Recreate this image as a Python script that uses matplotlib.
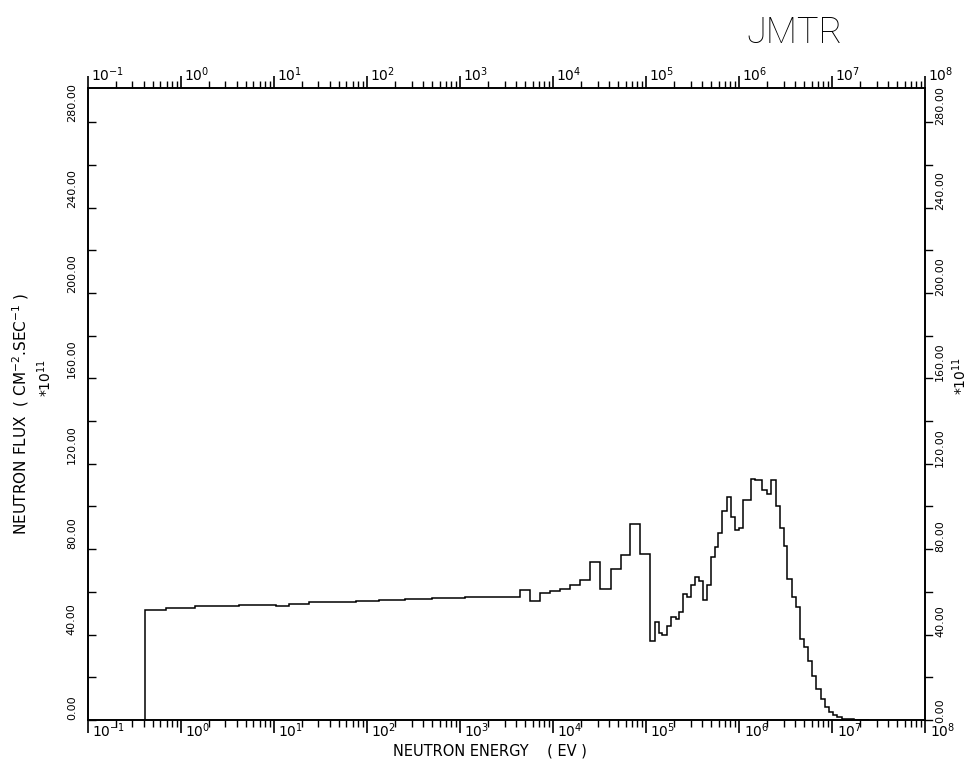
import matplotlib
matplotlib.use('Agg')
import matplotlib.pyplot as plt
import matplotlib.transforms as mtransforms
from matplotlib.ticker import LogLocator, MultipleLocator, NullFormatter, FixedLocator
import numpy as np

# group boundaries (eV)
energy_edges = [0.414, 0.684, 1.43, 2.35, 4.19, 6.87, 10.4, 14.4, 23.7, 38.8, 75.0, 134.0, 258.0,
                495.0, 1140.0, 2600.0,
                4.39e3, 5.62e3, 7.20e3, 9.22e3, 1.18e4, 1.51e4, 1.94e4, 2.50e4, 3.20e4, 4.17e4,
                5.34e4, 6.67e4, 8.54e4,
                1.10e5, 1.24e5, 1.38e5, 1.48e5, 1.67e5, 1.84e5, 2.08e5, 2.26e5, 2.49e5, 2.75e5,
                3.01e5, 3.35e5, 3.70e5, 4.09e5, 4.51e5, 4.98e5, 5.50e5, 5.92e5, 6.54e5, 7.40e5,
                8.17e5, 9.02e5, 9.95e5,
                1.10e6, 1.34e6, 1.48e6, 1.76e6, 1.99e6, 2.20e6, 2.49e6, 2.74e6, 3.03e6, 3.26e6,
                3.69e6, 4.08e6, 4.50e6, 4.97e6, 5.48e6, 6.05e6, 6.68e6, 7.56e6, 8.35e6, 9.22e6,
                1.02e7, 1.12e7, 1.27e7, 1.71e7, 2.48e7]

# group flux (x 1e11 n/cm2/s)
flux_thermal = [51.7, 52.3, 53.3, 53.5, 53.8, 53.7, 53.4, 54.4, 55.1, 55.3, 55.9, 56.3, 56.5,
                56.9, 57.4, 57.8]
flux_inter = [60.7, 55.5, 59.5, 60.5, 61.5, 63.0, 65.5, 74.0, 61.3, 70.5, 77.5, 91.6, 77.7]
flux_fast = [37.0, 46.0, 40.7, 39.9, 43.8, 48.4, 47.2, 50.8, 58.9, 57.8, 63.3, 66.8, 64.9,
             56.0, 63.3, 76.2, 80.9, 87.4, 97.8, 104.5, 95.1, 89.1, 90.0,
             103.2, 113.0, 112.2, 107.8, 105.9, 112.4, 100.4, 89.9, 81.6, 66.0, 57.4, 53.0,
             38.0, 34.1, 27.6, 20.6, 14.4, 9.7, 6.1, 3.9,
             2.3, 1.4, 0.6, 0.2]

decades = list(range(-1, 9))
y_ticks = [0, 40, 80, 120, 160, 200, 240, 280]
y_labels = ['0.00', '40.00', '80.00', '120.00', '160.00', '200.00', '240.00', '280.00']

flux = flux_thermal + flux_inter + flux_fast

fig = plt.figure(figsize=(9.71, 7.67), dpi=100)
ax = fig.add_axes([0.0906, 0.0613, 0.8625, 0.824])

ax.stairs(flux, energy_edges, baseline=0, color='black', lw=1.1)

ax.set_xscale('log')
ax.set_xlim(1e-1, 1e8)
ax.set_ylim(0, 296)

for s in ax.spines.values():
    s.set_linewidth(1.4)

# tick marks
ax.xaxis.set_major_locator(FixedLocator([10.0 ** d for d in decades]))
ax.xaxis.set_minor_locator(LogLocator(base=10, subs=np.arange(2, 10), numticks=20))
ax.xaxis.set_minor_formatter(NullFormatter())
ax.yaxis.set_major_locator(MultipleLocator(40))
ax.yaxis.set_minor_locator(MultipleLocator(20))
ax.tick_params(axis='x', which='major', direction='out', length=9, width=1.2,
               top=True, bottom=True, labelbottom=False, labeltop=False)
ax.tick_params(axis='x', which='minor', direction='out', length=5, width=1.0,
               top=True, bottom=True)
ax.tick_params(axis='y', which='both', direction='in', length=6, width=1.0,
               left=True, right=False, labelleft=False)

# right-hand ticks point outward
for yv in np.arange(0, 296, 20):
    ax.plot([1.0, 1.008], [yv, yv], transform=ax.get_yaxis_transform(), color='black',
            lw=1.0, clip_on=False)

# decade labels on top and bottom
xt = ax.get_xaxis_transform()
for d in decades:
    lab = r'$10^{%d}$' % d
    ax.text(10.0 ** d, 0, lab, fontsize=10, ha='left', va='top',
            transform=xt + mtransforms.ScaledTranslation(3 / 72, -1 / 72, fig.dpi_scale_trans))
    ax.text(10.0 ** d, 1, lab, fontsize=10, ha='left', va='bottom',
            transform=xt + mtransforms.ScaledTranslation(2 / 72, 3 / 72, fig.dpi_scale_trans))

# flux labels on both sides, written upward from each tick
yt = ax.get_yaxis_transform()
for v, lab in zip(y_ticks, y_labels):
    ax.text(0, v, lab, fontsize=8, rotation=90, rotation_mode='anchor', ha='left', va='bottom',
            transform=yt + mtransforms.ScaledTranslation(-8 / 72, 0, fig.dpi_scale_trans))
    ax.text(1, v, lab, fontsize=8, rotation=90, rotation_mode='anchor', ha='left', va='top',
            transform=yt + mtransforms.ScaledTranslation(7 / 72, -2 / 72, fig.dpi_scale_trans))

fig.text(0.505, 0.021, 'NEUTRON ENERGY    ( EV )', fontsize=10.5, ha='center', va='center')
fig.text(0.021, 0.46, r'NEUTRON FLUX  ( CM$^{-2}$.SEC$^{-1}$ )', fontsize=11, rotation=90,
         ha='center', va='center')
fig.text(0.046, 0.507, r'*10$^{11}$', fontsize=10, rotation=90, ha='center', va='center')
fig.text(0.988, 0.51, r'*10$^{11}$', fontsize=10, rotation=90, ha='center', va='center')

fig.text(0.818, 0.957, 'JMTR', fontsize=26, ha='center', va='center',
         family=['Roboto', 'DejaVu Sans'], fontweight='light', color='black')

fig.savefig('out.png', dpi=100, facecolor='white')
